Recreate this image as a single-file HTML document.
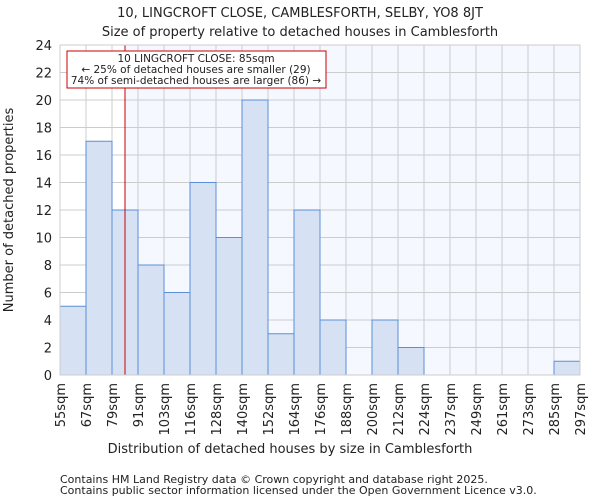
<!DOCTYPE html>
<html><head><meta charset="utf-8"><style>
body{margin:0;background:#fff;font-family:"DejaVu Sans","Liberation Sans",sans-serif;}
svg text{font-family:"DejaVu Sans","Liberation Sans",sans-serif;fill:#222;}
</style></head><body>
<svg id="c" width="600" height="500" xmlns="http://www.w3.org/2000/svg">
<text x="300" y="17" text-anchor="middle" font-size="13">10, LINGCROFT CLOSE, CAMBLESFORTH, SELBY, YO8 8JT</text>
<text x="300" y="36" text-anchor="middle" font-size="13">Size of property relative to detached houses in Camblesforth</text>
<g id="plot"></g>
<text x="290" y="453" text-anchor="middle" font-size="13">Distribution of detached houses by size in Camblesforth</text>
<text transform="translate(13,210) rotate(-90)" text-anchor="middle" font-size="13">Number of detached properties</text>
<text x="60" y="483" font-size="11" fill="#444">Contains HM Land Registry data © Crown copyright and database right 2025.</text>
<text x="60" y="494" font-size="11" fill="#444">Contains public sector information licensed under the Open Government Licence v3.0.</text>
</svg>
<script>
const binLabels=["55sqm","67sqm","79sqm","91sqm","103sqm","116sqm","128sqm","140sqm","152sqm","164sqm","176sqm","188sqm","200sqm","212sqm","224sqm","237sqm","249sqm","261sqm","273sqm","285sqm","297sqm"];
const binEdges=[55,67,79,91,103,116,128,140,152,164,176,188,200,212,224,237,249,261,273,285,297];
const counts=[5,17,12,8,6,14,10,20,3,12,4,0,4,2,0,0,0,0,0,1];
const yTicks=[0,2,4,6,8,10,12,14,16,18,20,22,24];
const markerValue=85;
const X0=60,X1=580,Y0=375,Y1=45,YMAX=24;
const n=counts.length;
function xIdx(i){return X0+(X1-X0)*i/n;}
function xVal(v){let i=0;while(i<binEdges.length-2&&v>binEdges[i+1])i++;return xIdx(i+(v-binEdges[i])/(binEdges[i+1]-binEdges[i]));}
function y(v){return Y0-(Y0-Y1)*v/YMAX;}
const ns="http://www.w3.org/2000/svg";
const g=document.getElementById('plot');
function el(t,a,p){const e=document.createElementNS(ns,t);for(const k in a)e.setAttribute(k,a[k]);(p||g).appendChild(e);return e;}
const mx=xVal(markerValue);
let r=el('rect',{x:X0,y:Y1,width:mx-X0,height:Y0-Y1,fill:'#ffffff'});


r=el('rect',{x:mx,y:Y1,width:X1-mx,height:Y0-Y1,fill:'#f5f8fe'});


yTicks.forEach(t=>{
 const l=el('line',{x1:X0,x2:X1,y1:y(t),y2:y(t),stroke:'#cccccc','stroke-width':1});
 
 
 const tx=el('text',{x:X0-8,y:y(t)+5,'text-anchor':'end','font-size':13});
 tx.textContent=t;
 
 
});
binLabels.forEach((s,i)=>{
 const x=xIdx(i);
 const l=el('line',{x1:x,x2:x,y1:Y1,y2:Y0,stroke:'#cccccc','stroke-width':1});
 
 
 const tx=el('text',{transform:`translate(${x+5},${Y0+8}) rotate(-90)`,'text-anchor':'end','font-size':13});
 tx.textContent=s;
 
 
});
counts.forEach((c,i)=>{
 if(c<=0)return;
 const b=el('rect',{x:xIdx(i),y:y(c),width:xIdx(i+1)-xIdx(i),height:Y0-y(c),fill:'#d6e2f4',stroke:'#5b8fd6','stroke-width':1});
 
 
});
const ml=el('line',{x1:mx,x2:mx,y1:Y1,y2:Y0,stroke:'#cc0000','stroke-width':1});


const fr=el('rect',{x:X0,y:Y1,width:X1-X0,height:Y0-Y1,fill:'none',stroke:'#cccccc'});


const ab=el('rect',{x:67,y:51,width:259,height:37,fill:'#fff',stroke:'#cc0000','stroke-width':1});


["10 LINGCROFT CLOSE: 85sqm","← 25% of detached houses are smaller (29)","74% of semi-detached houses are larger (86) →"].forEach((s,i)=>{
 const t=el('text',{x:196,y:62+i*11,'text-anchor':'middle','font-size':10.5});
 t.textContent=s;
 
 
});
</script>
</body></html>
